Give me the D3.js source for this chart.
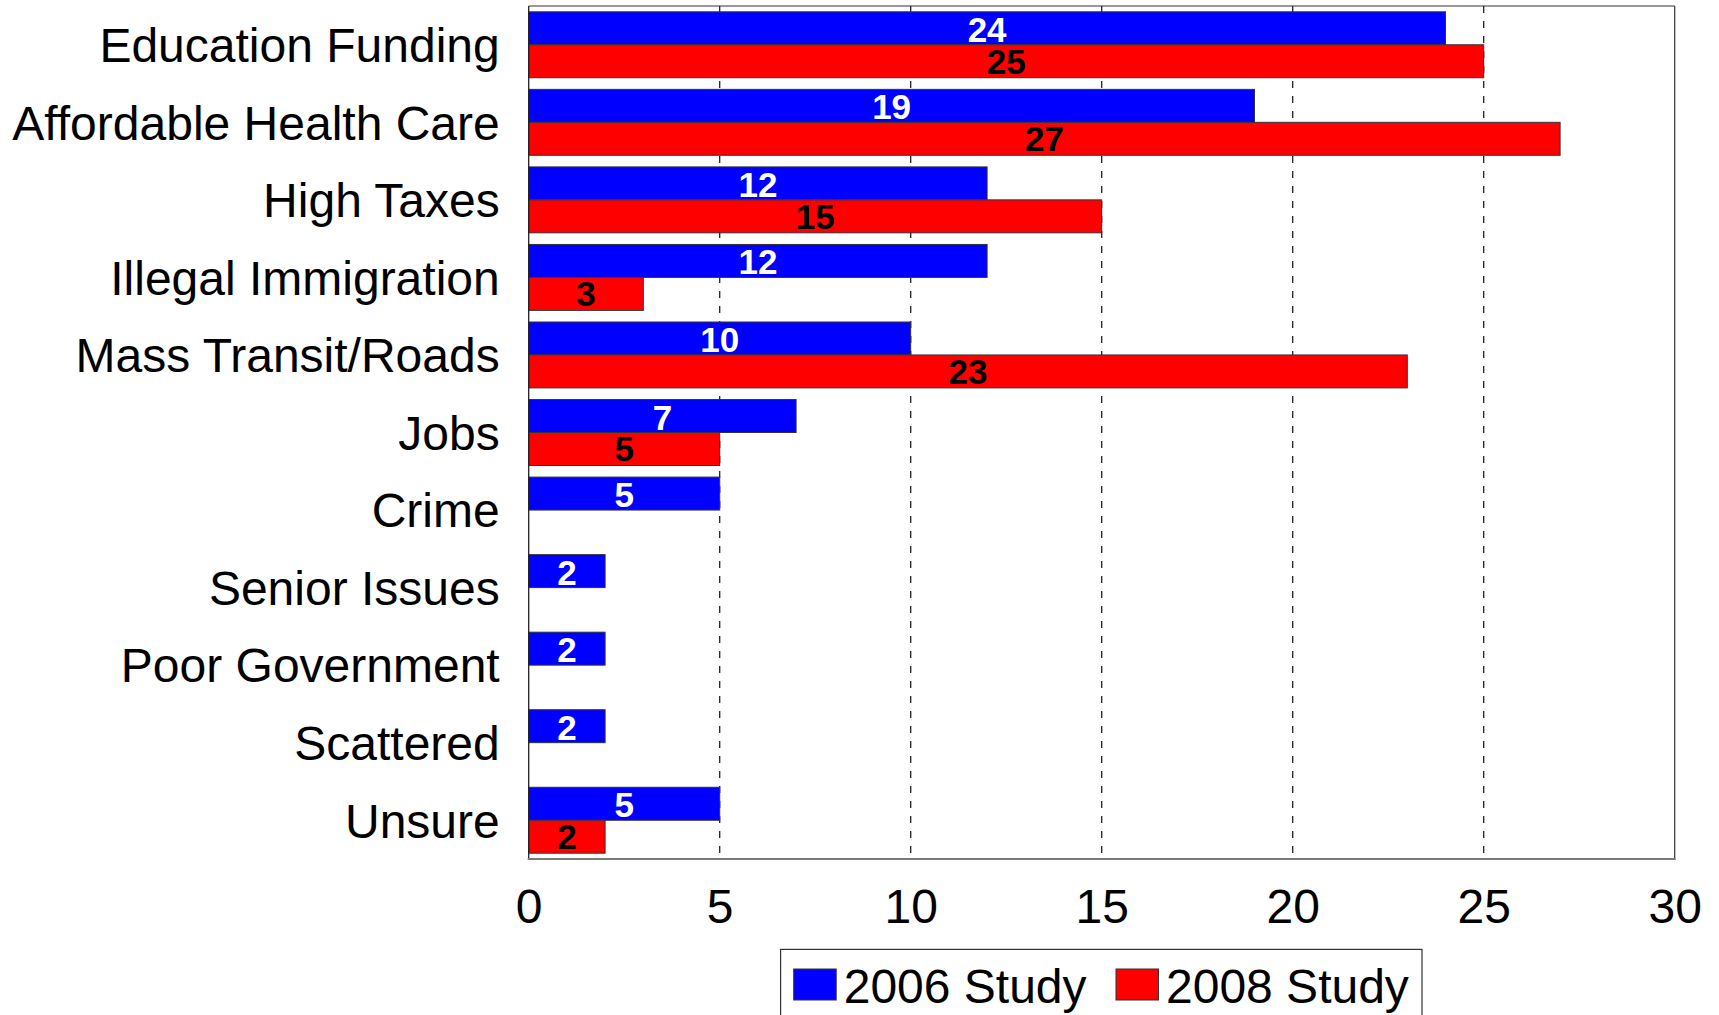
<!DOCTYPE html>
<html>
<head>
<meta charset="utf-8">
<script src="https://cdn.jsdelivr.net/npm/d3@7"></script>
<style>
  html, body { margin: 0; padding: 0; background: #fff; }
  svg { display: block; font-family: "Liberation Sans", Arial, sans-serif; }
</style>
</head>
<body>
<svg id="chart" width="1719" height="1015"></svg>
<script>
const categories = ["Education Funding", "Affordable Health Care", "High Taxes", "Illegal Immigration",
  "Mass Transit/Roads", "Jobs", "Crime", "Senior Issues", "Poor Government", "Scattered", "Unsure"];
const study2006 = [24, 19, 12, 12, 10, 7, 5, 2, 2, 2, 5];
const study2008 = [25, 27, 15, 3, 23, 5, 0, 0, 0, 0, 2];
const seriesNames = ["2006 Study", "2008 Study"];
const xTicks = [0, 5, 10, 15, 20, 25, 30];

const colors = ["#0000ff", "#ff0000"];
const labelColors = ["#ffffff", "#000000"];

const svg = d3.select("#chart");
const L = 528.7, R = 1674.7, T = 6, B = 859;

const x = d3.scaleLinear().domain([0, 30]).range([L, R]);
const y = d3.scaleBand().domain(categories).range([T, B]).paddingInner(0.15).paddingOuter(0.075);
const ySub = d3.scaleBand().domain([0, 1]).range([0, y.bandwidth()]);

// gridlines
svg.append("g").selectAll("line").data(xTicks.filter(t => t > 0 && t < 30)).join("line")
  .attr("x1", d => x(d)).attr("x2", d => x(d))
  .attr("y1", T).attr("y2", B)
  .attr("stroke", "#222").attr("stroke-width", 1.3).attr("stroke-dasharray", "7,8");

const rows = categories.map((c, i) => ({c, v: [study2006[i], study2008[i]]}));

const g = svg.append("g");
rows.forEach(r => {
  r.v.forEach((v, s) => {
    if (v <= 0) return;
    const y0 = y(r.c) + ySub(s);
    g.append("rect")
      .attr("x", x(0)).attr("y", y0)
      .attr("width", x(v) - x(0)).attr("height", ySub.bandwidth())
      .attr("fill", colors[s]).attr("stroke", "#333").attr("stroke-width", 1);
  });
});
rows.forEach(r => {
  r.v.forEach((v, s) => {
    if (v <= 0) return;
    const yc = y(r.c) + ySub(s) + ySub.bandwidth() / 2;
    g.append("text")
      .attr("x", x(v / 2)).attr("y", yc + 12.5 + (s === 0 ? 1 : 0))
      .attr("text-anchor", "middle")
      .attr("font-size", 35).attr("font-weight", "bold")
      .attr("fill", labelColors[s])
      .text(v);
  });
});

// frame
svg.append("line").attr("x1", L).attr("x2", R).attr("y1", T).attr("y2", T).attr("stroke", "#333").attr("stroke-width", 1.2);
svg.append("line").attr("x1", R).attr("x2", R).attr("y1", T).attr("y2", B).attr("stroke", "#333").attr("stroke-width", 1.2);
svg.append("line").attr("x1", L).attr("x2", L).attr("y1", T).attr("y2", B).attr("stroke", "#222").attr("stroke-width", 1.3);
svg.append("line").attr("x1", L - 1).attr("x2", R + 1).attr("y1", B).attr("y2", B).attr("stroke", "#7a7a7a").attr("stroke-width", 2);

// x axis labels
const xAxis = d3.axisBottom(x).tickValues(xTicks).tickSize(0).tickPadding(30);
const xa = svg.append("g").attr("transform", `translate(0,${B})`).call(xAxis);
xa.select(".domain").remove();
xa.selectAll("text").attr("font-size", 48).attr("fill", "#000").attr("font-family", "'Liberation Sans', Arial, sans-serif");

// y labels
const yAxis = d3.axisLeft(y).tickSize(0).tickPadding(29);
const ya = svg.append("g").attr("transform", `translate(${L},0)`).call(yAxis);
ya.select(".domain").remove();
ya.selectAll("text").attr("font-size", 48).attr("fill", "#000").attr("font-family", "'Liberation Sans', Arial, sans-serif")
  .attr("dy", "0.36em");

// legend
const lg = svg.append("g");
lg.append("rect").attr("x", 780.6).attr("y", 949.4).attr("width", 641.4).attr("height", 90)
  .attr("fill", "#fff").attr("stroke", "#333").attr("stroke-width", 1.2);
const legendX = [793.7, 1116];
seriesNames.forEach((n, s) => {
  lg.append("rect").attr("x", legendX[s]).attr("y", 969).attr("width", 42.5).attr("height", 31)
    .attr("fill", colors[s]).attr("stroke", "#333").attr("stroke-width", 1);
  lg.append("text").attr("x", legendX[s] + 50).attr("y", 1003)
    .attr("font-size", 48).attr("fill", "#000").text(n);
});
</script>
</body>
</html>
